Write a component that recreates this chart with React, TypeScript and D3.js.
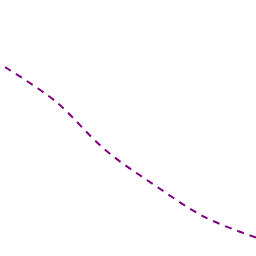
import React from "react";
import * as d3 from "d3";

const xValues = [0, 1, 2, 3, 4, 5];
const yValues = [73.8, 60.5, 41.4, 27.4, 15.0, 7.2];

export default function App() {
  const W = 256, H = 256;
  const x = d3.scaleLinear().domain([0, 5]).range([5, 256]);
  const y = d3.scaleLinear().domain([0, 100]).range([256, 0]);
  const pts = xValues.map((v, i) => [v, yValues[i]] as [number, number]);
  const line = d3.line<[number, number]>()
    .x(d => x(d[0]))
    .y(d => y(d[1]))
    .curve(d3.curveCatmullRom.alpha(0.5));
  return (
    <svg width={W} height={H} style={{ position: "absolute", left: 0, top: 0, background: "#fff" }}>
      <path d={line(pts) || ""} fill="none" stroke="#800080" strokeWidth={2} strokeDasharray="7,6" />
    </svg>
  );
}
